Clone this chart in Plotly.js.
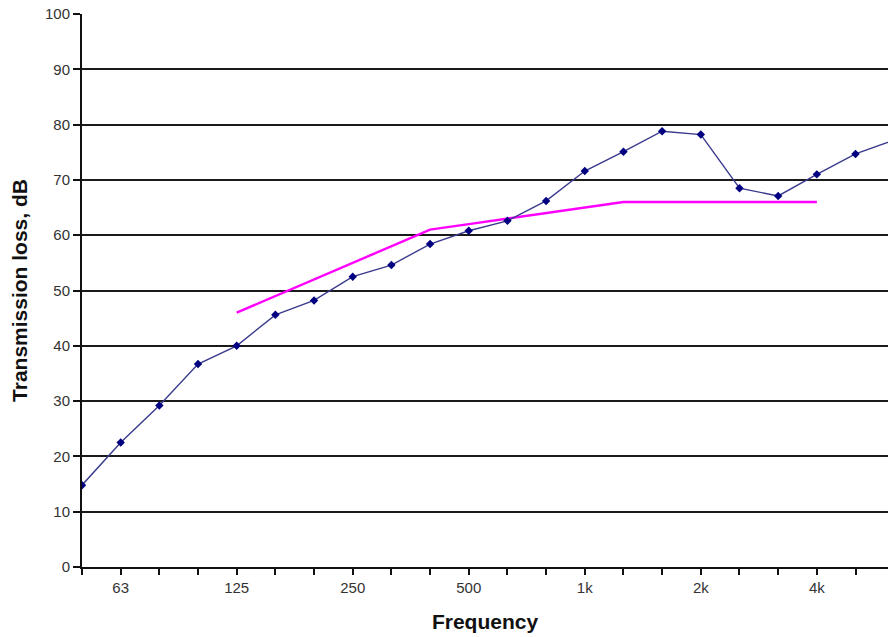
<!DOCTYPE html>
<html>
<head>
<meta charset="utf-8">
<script src="https://cdn.plot.ly/plotly-3.0.1.min.js"></script>
<style>html,body{margin:0;padding:0;background:#fff;}#chart{width:888px;height:637px;}</style>
</head>
<body>
<div id="chart"></div>
<script>
// One-third octave band centre frequencies
const bands = ["50","63","80","100","125","160","200","250","315","400","500","630","800","1k","1.25k","1.6k","2k","2.5k","3.15k","4k","5k","6.3k"];
// Tick labels shown on the axis (blank for unlabelled bands)
const tickLabels = ["","63","","","125","","","250","","","500","","","1k","","","2k","","","4k","",""];
// Measured transmission loss, dB
const measured = [14.8,22.5,29.2,36.7,40.0,45.6,48.2,52.5,54.6,58.4,60.8,62.6,66.2,71.6,75.1,78.8,78.2,68.5,67.1,71.0,74.7,77.2];
// Shifted reference curve, dB (125 Hz – 4 kHz)
const refBands = ["125","160","200","250","315","400","500","630","800","1k","1.25k","1.6k","2k","2.5k","3.15k","4k"];
const reference = [46,49,52,55,58,61,62,63,64,65,66,66,66,66,66,66];

const idx = b => bands.indexOf(b);
const xs = bands.map((b,i)=>i);

const traces = [
  {
    x: refBands.map(idx), y: reference, type:'scatter', mode:'lines',
    line:{color:'#FF00FF', width:2.4}, hoverinfo:'skip', cliponaxis:true
  },
  {
    x: xs, y: measured, type:'scatter', mode:'lines+markers',
    line:{color:'#3A3A8E', width:1.4},
    marker:{symbol:'diamond', size:6.5, color:'#000080'},
    cliponaxis:true
  }
];

const layout = {
  width:888, height:637,
  margin:{l:82, r:0, t:14, b:70, pad:0},
  paper_bgcolor:'#fff', plot_bgcolor:'#fff',
  showlegend:false,
  font:{family:'Liberation Sans, Arial, sans-serif', color:'#222', size:15},
  xaxis:{
    range:[0, 20.84],
    tickmode:'array', tickvals:xs, ticktext:tickLabels,
    ticks:'outside', ticklen:6, tickwidth:2, tickcolor:'#111',
    showline:true, linecolor:'#111', linewidth:2,
    showgrid:false, zeroline:false,
    tickfont:{size:15, color:'#333'},
    title:{text:'<b>Frequency</b>', font:{size:21, color:'#111'}, standoff:19}
  },
  yaxis:{
    range:[0,100], tickmode:'array', tickvals:[0,10,20,30,40,50,60,70,80,90,100],
    ticks:'outside', ticklen:7, tickwidth:2, tickcolor:'#111',
    showline:true, linecolor:'#111', linewidth:2,
    showgrid:true, gridcolor:'#1a1a1a', gridwidth:2,
    zeroline:false,
    tickfont:{size:15, color:'#333'},
    title:{text:'<b>Transmission loss, dB</b>', font:{size:21, color:'#111'}, standoff:12}
  }
};

Plotly.newPlot('chart', traces, layout, {displayModeBar:false, staticPlot:true});
</script>
</body>
</html>
